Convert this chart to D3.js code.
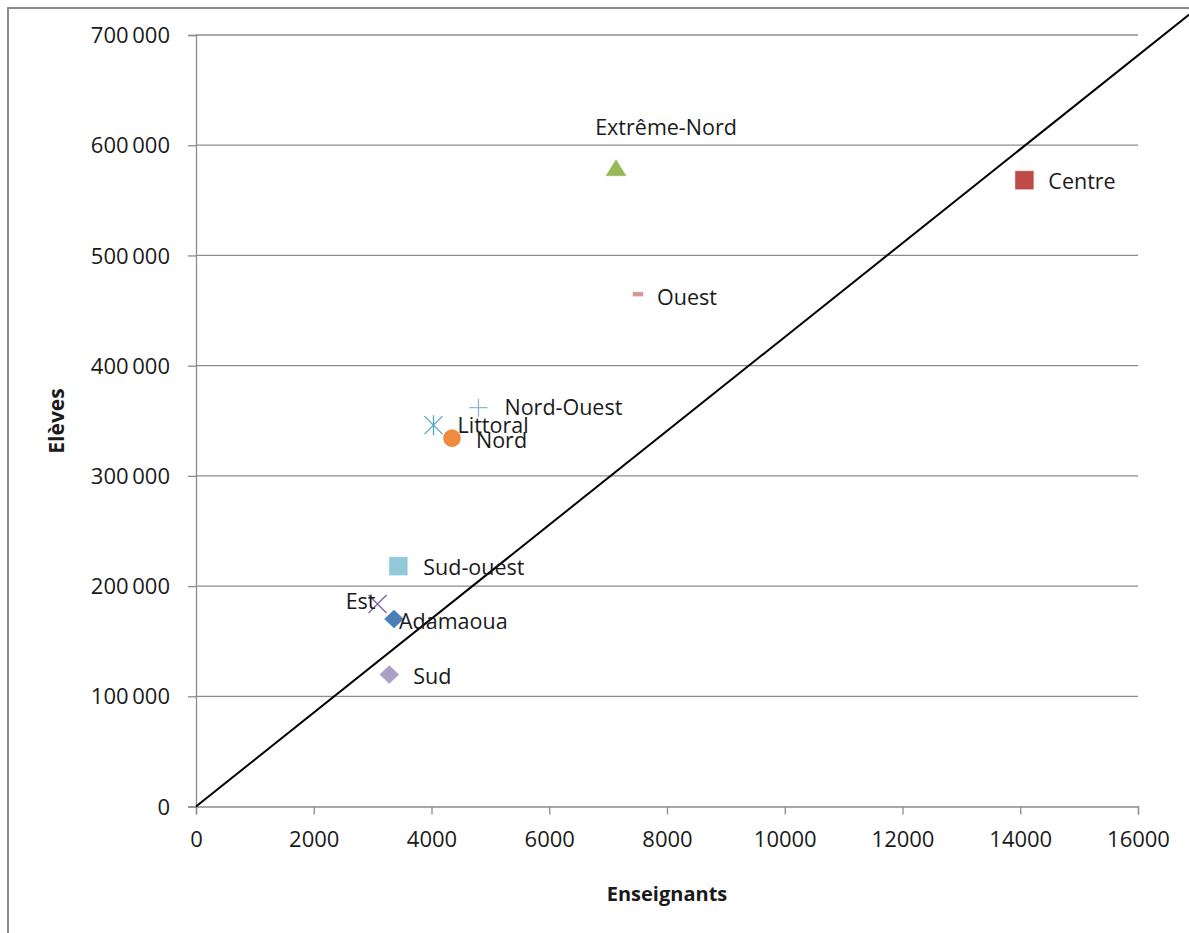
<!DOCTYPE html>
<html>
<head>
<meta charset="utf-8">
<script src="https://cdn.jsdelivr.net/npm/d3@7"></script>
<style>
  html, body { margin: 0; padding: 0; background: #fff; }
  svg { display: block; }
  text { font-family: "Open Sans", "DejaVu Sans", sans-serif; fill: #1a1a1a; }
</style>
</head>
<body>
<svg id="chart" width="1189" height="933"></svg>
<script>
// Regions of Cameroon: teachers (Enseignants) vs pupils (Elèves)
const regions   = ["Adamaoua", "Centre", "Extrême-Nord", "Est", "Littoral", "Nord", "Nord-Ouest", "Ouest", "Sud", "Sud-ouest"];
const teachers  = [3363, 14070, 7134, 3083, 4034, 4348, 4798, 7507, 3283, 3436];
const pupils    = [170100, 568300, 579600, 183700, 346000, 334200, 361900, 464900, 119700, 218100];
const colors    = ["#4a7ebb", "#be4b48", "#98b954", "#7d60a0", "#4bacc6", "#f08a3f", "#95b3d7", "#d99694", "#ab9fc5", "#93c9da"];
const markers   = ["diamond", "square", "triangle", "x", "asterisk", "circle", "plus", "dash", "diamond", "square"];

const xTicks = [0, 2000, 4000, 6000, 8000, 10000, 12000, 14000, 16000];
const yTicks = [0, 100000, 200000, 300000, 400000, 500000, 600000, 700000];

// Reference ratio line: from the origin to the edge of the chart
const ratioLine = [[0, 0], [16870, 718600]];

const svg = d3.select("#chart");
const W = 1189, H = 933;
const plotLeft = 196, plotRight = 1138, plotTop = 35, plotBottom = 806.5;

svg.append("rect").attr("width", W).attr("height", H).attr("fill", "#fff");
// chart frame
svg.append("rect").attr("x", 8).attr("y", 8).attr("width", W + 20).attr("height", H + 20)
  .attr("fill", "none").attr("stroke", "#8c8c8c").attr("stroke-width", 2);

const x = d3.scaleLinear().domain([0, 16000]).range([plotLeft, plotRight]);
const y = d3.scaleLinear().domain([0, 700000]).range([plotBottom, plotTop]);

const fmt = v => d3.format(",")(v).replace(/,/g, "\u2009");

// horizontal gridlines
svg.append("g").selectAll("line").data(yTicks.filter(d => d > 0)).join("line")
  .attr("x1", plotLeft).attr("x2", plotRight)
  .attr("y1", d => y(d)).attr("y2", d => y(d))
  .attr("stroke", "#8c8c8c").attr("stroke-width", 1.3);

// y axis
const yAxis = svg.append("g").attr("transform", `translate(${plotLeft},0)`)
  .call(d3.axisLeft(y).tickValues(yTicks).tickSize(8).tickPadding(18).tickFormat(fmt));
yAxis.select(".domain").attr("stroke", "#8c8c8c").attr("stroke-width", 1.3);
yAxis.selectAll(".tick line").attr("stroke", "#8c8c8c").attr("stroke-width", 1.3);
yAxis.selectAll(".tick text").style("font-size", "22px").attr("fill", "#1a1a1a").attr("dy", "0.35em");

// x axis
const xAxis = svg.append("g").attr("transform", `translate(0,${plotBottom})`)
  .call(d3.axisBottom(x).tickValues(xTicks).tickSize(8).tickPadding(17).tickFormat(d => String(d)));
xAxis.select(".domain").attr("stroke", "#8c8c8c").attr("stroke-width", 1.3);
xAxis.selectAll(".tick line").attr("stroke", "#8c8c8c").attr("stroke-width", 1.3);
xAxis.selectAll(".tick text").style("font-size", "22px").attr("fill", "#1a1a1a");

// axis titles
svg.append("text").attr("x", 667).attr("y", 901).attr("text-anchor", "middle")
  .style("font-size", "20px").style("font-weight", "bold").text("Enseignants");
svg.append("text").attr("transform", "translate(64,421) rotate(-90)").attr("text-anchor", "middle")
  .style("font-size", "21px").style("font-weight", "bold").text("Elèves");

// ratio line
svg.append("line")
  .attr("x1", x(ratioLine[0][0])).attr("y1", y(ratioLine[0][1]))
  .attr("x2", x(ratioLine[1][0])).attr("y2", y(ratioLine[1][1]))
  .attr("stroke", "#000").attr("stroke-width", 2);

// marker shapes
function markerPath(kind) {
  switch (kind) {
    case "diamond": return "M0,-9L9.5,0L0,9L-9.5,0Z";
    case "square": return "M-9,-9H9V9H-9Z";
    case "triangle": return "M0,-8L10,8H-10Z";
    case "circle": return d3.symbol(d3.symbolCircle, 230)();
    case "x": return "M-9,-9L9,9M-9,9L9,-9";
    case "plus": return "M0,-9V9M-9,0H9";
    case "asterisk": return "M-9,-9L9,9M-9,9L9,-9M0,-10V10";
    case "dash": return "M-5,-2H5V2H-5Z";
  }
}
const lineMarkers = new Set(["x", "plus", "asterisk"]);

const pts = regions.map((r, i) => ({ name: r, tx: teachers[i], px: pupils[i], color: colors[i], marker: markers[i] }));

svg.append("g").selectAll("path").data(pts).join("path")
  .attr("transform", d => `translate(${x(d.tx)},${y(d.px)})`)
  .attr("d", d => markerPath(d.marker))
  .attr("fill", d => lineMarkers.has(d.marker) ? "none" : d.color)
  .attr("stroke", d => d.color)
  .attr("stroke-width", d => lineMarkers.has(d.marker) ? 1.3 : 0.5);

// data labels: placement around each marker
const labelPlacement = {
  "Extrême-Nord": { dx: 50, dy: -40, anchor: "middle" },
  "Centre": { dx: 24, dy: 1, anchor: "start" },
  "Ouest": { dx: 19, dy: 3, anchor: "start" },
  "Nord-Ouest": { dx: 26, dy: 0, anchor: "start" },
  "Littoral": { dx: 24, dy: 0, anchor: "start" },
  "Nord": { dx: 24, dy: 2, anchor: "start" },
  "Sud-ouest": { dx: 25, dy: 1, anchor: "start" },
  "Est": { dx: -2, dy: -3, anchor: "end" },
  "Adamaoua": { dx: 5, dy: 2, anchor: "start" },
  "Sud": { dx: 24, dy: 1.5, anchor: "start" }
};

svg.append("g").selectAll("text").data(pts).join("text")
  .attr("x", d => x(d.tx) + labelPlacement[d.name].dx)
  .attr("y", d => y(d.px) + labelPlacement[d.name].dy)
  .attr("dy", "0.35em")
  .attr("text-anchor", d => labelPlacement[d.name].anchor)
  .style("font-size", "21.5px")
  .text(d => d.name);
</script>
</body>
</html>
